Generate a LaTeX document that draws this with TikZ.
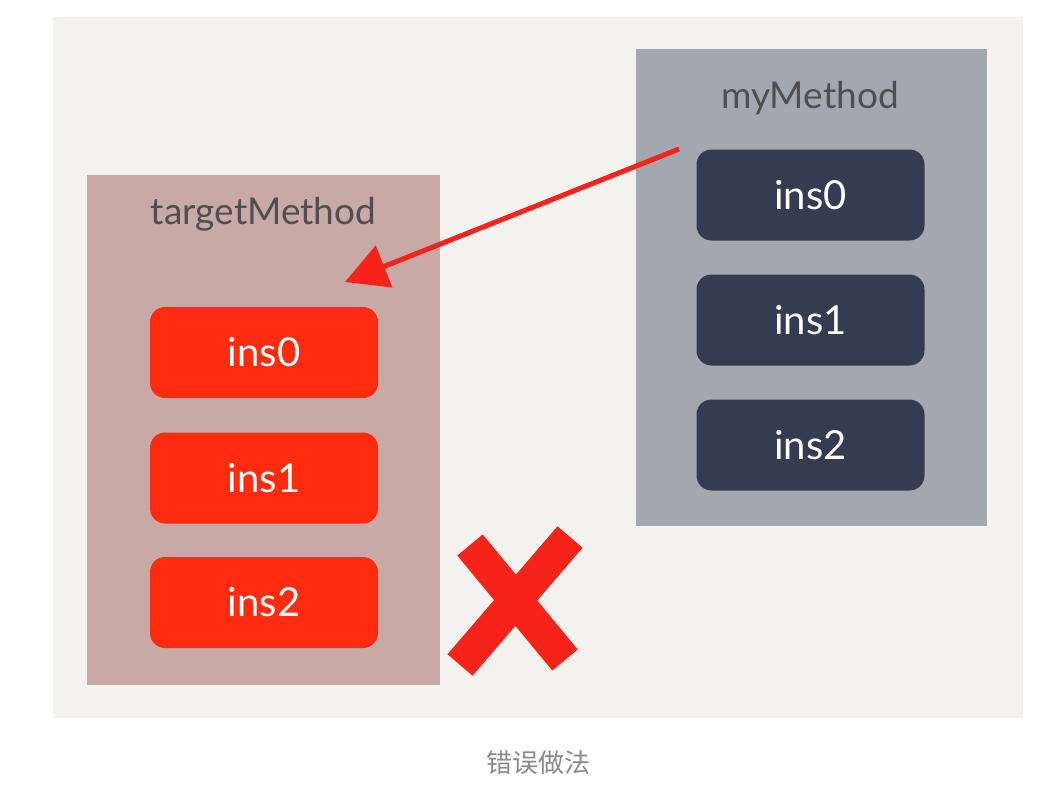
\documentclass[tikz,border=0pt]{standalone}
\usepackage{fontspec}
\setmainfont{Lato}
\newfontfamily\cjk{Noto Sans CJK SC}
\usetikzlibrary{arrows.meta}
\definecolor{panel}{HTML}{F3F2EE}
\definecolor{tgtbg}{HTML}{C8A9A6}
\definecolor{insred}{HTML}{FF2B0E}
\definecolor{mybg}{HTML}{A3A7B0}
\definecolor{insdark}{HTML}{343C52}
\definecolor{titlegray}{HTML}{4F4F4F}
\definecolor{capgray}{HTML}{8A8A8A}
\definecolor{penred}{HTML}{F5231A}
\tikzset{
  group/.style={draw=none, inner sep=0pt, minimum width=#1},
  insbox/.style={fill=#1, rounded corners=15pt, inner sep=0pt, minimum width=228pt, minimum height=91pt, text=white, font=\fontsize{40}{44}\selectfont},
  gtitle/.style={text=titlegray, font=\fontsize{37}{42}\selectfont, inner sep=0pt},
}
\begin{document}
\begin{tikzpicture}[x=1pt,y=-1pt]
\useasboundingbox (0,0) rectangle (1057,793);
\fill[white] (0,0) rectangle (1057,793);
\fill[panel] (53,17) rectangle (1023,718);
% groups
\node[group=353pt, fill=tgtbg, minimum height=510pt] (target) at (263.5,430) {};
\node[group=351pt, fill=mybg, minimum height=477pt] (my) at (811.5,287.5) {};
\node[gtitle] (ttitle) at (263.5,214) {targetMethod};
\node[gtitle] (mtitle) at (810,98) {myMethod};
% instruction boxes
\node[insbox=insred] (t0) at (264,352.5) {ins0};
\node[insbox=insred] (t1) at (264,478) {ins1};
\node[insbox=insred] (t2) at (264,602.5) {ins2};
\node[insbox=insdark] (m0) at (810.5,195) {ins0};
\node[insbox=insdark] (m1) at (810.5,320) {ins1};
\node[insbox=insdark] (m2) at (810.5,445) {ins2};
% arrow
\coordinate (as) at (679,149);
\coordinate (ae) at (345,282);
\draw[penred, line width=5pt, -{Triangle[length=42pt,width=44pt]}] (as) -- (ae);
% cross
\draw[penred, line width=33pt] (470,545) -- (565,660);
\draw[penred, line width=33pt] (570,537) -- (460,665);
% caption
\node[text=capgray, font=\cjk\fontsize{26}{30}\selectfont, inner sep=0pt] (cap) at (538,763) {错误做法};
\end{tikzpicture}
\end{document}
